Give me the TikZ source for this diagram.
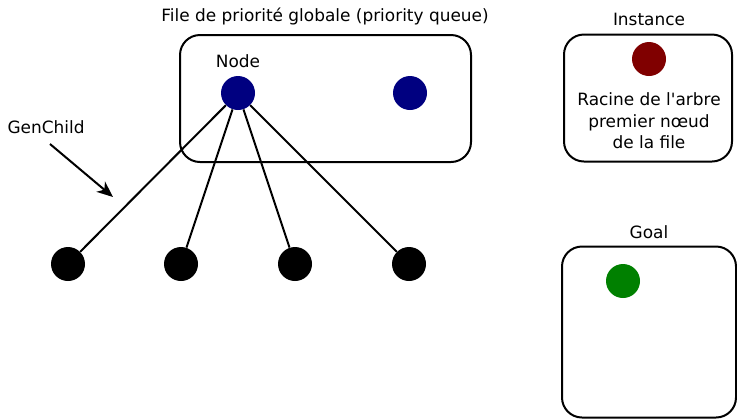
\documentclass[tikz,border=0pt]{standalone}
\usepackage{fontspec}
\setmainfont{DejaVu Sans}
\usetikzlibrary{arrows.meta}
\definecolor{navyblue}{HTML}{000080}
\definecolor{darkred}{HTML}{800000}
\definecolor{goalgreen}{HTML}{008000}
\tikzset{
  panel/.style={draw=black, line width=1.5pt, rounded corners=15pt},
  dot/.style={circle, inner sep=0pt, minimum size=25.5pt},
  label/.style={font=\fontsize{12.7}{15}\selectfont, inner sep=0pt},
  edge/.style={line width=1.5pt},
}
\begin{document}
\begin{tikzpicture}[x=0.75pt, y=-0.75pt]
  \useasboundingbox (0,0) rectangle (737,419);

  % priority queue panel
  \node[panel, minimum width=218.25pt, minimum height=95.25pt] (queue) at (325.5,98.5) {};
  \node[label] (queuetitle) at (325,16) {File de priorité globale (priority queue)};
  \node[label] (nodelabel) at (238,61) {Node};
  \node[dot, fill=navyblue] (n1) at (238,93) {};
  \node[dot, fill=navyblue] (n2) at (410,93) {};

  % children of the expanded node
  \node[dot, fill=black] (c1) at (68,264) {};
  \node[dot, fill=black] (c2) at (181,264) {};
  \node[dot, fill=black] (c3) at (295,264) {};
  \node[dot, fill=black] (c4) at (409,264) {};
  \foreach \c in {c1,c2,c3,c4}
    \draw[edge] (n1) -- (\c);

  % GenChild annotation
  \node[label] (genchild) at (46,127) {GenChild};
  \coordinate (gcstart) at (50,144);
  \coordinate (gcend) at (113,197);
  \draw[edge, -{Stealth[length=12pt, width=10pt, inset=3.5pt]}] (gcstart) -- (gcend);

  % instance panel
  \node[panel, minimum width=126pt, minimum height=95.25pt] (inst) at (648,98) {};
  \node[label] (insttitle) at (649,19) {Instance};
  \node[dot, fill=darkred] (root) at (649,59) {};
  \node[label, align=center, font=\fontsize{12.7}{16.2}\selectfont] (insttext) at (649,121)
    {Racine de l\textquotesingle arbre\\premier nœud\\de la file};

  % goal panel
  \node[panel, minimum width=130.5pt, minimum height=128.25pt] (goal) at (649,332) {};
  \node[label] (goaltitle) at (649,232) {Goal};
  \node[dot, fill=goalgreen] (g) at (623,281) {};
\end{tikzpicture}
\end{document}
